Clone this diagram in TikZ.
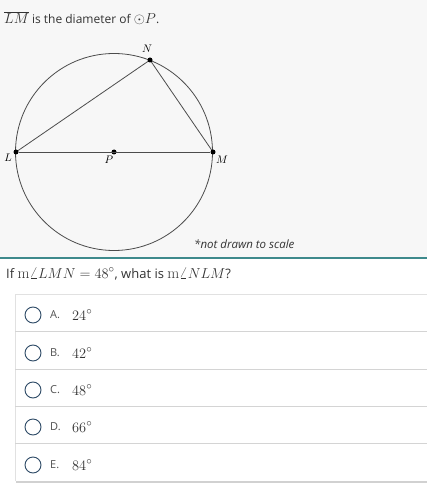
\documentclass[tikz,border=0pt]{standalone}
\usepackage{fontspec}
\setsansfont{Open Sans}
\usetikzlibrary{shadows}
\definecolor{topbg}{HTML}{F7F7F7}
\definecolor{teal}{HTML}{3E8A8C}
\definecolor{rulegray}{HTML}{D4D4D4}
\definecolor{radio}{HTML}{2E4A66}
\definecolor{txt}{HTML}{333333}
\newcommand{\mth}[2]{{\fontsize{#1}{#1}\selectfont$#2$}}
\tikzset{
  pt/.style={circle,fill=black,inner sep=0pt,minimum size=5pt},
  lbl/.style={font=\fontsize{11}{12}\selectfont,inner sep=0pt},
  geo/.style={draw=black!70,line width=0.8pt},
  radiobtn/.style={circle,draw=radio,line width=0.9pt,minimum size=16pt,inner sep=0pt},
  letter/.style={font=\sffamily\fontsize{11}{13}\selectfont,text=txt!85,anchor=west,inner sep=0pt},
  val/.style={font=\fontsize{15.5}{17}\selectfont,text=txt,anchor=west,inner sep=0pt},
  divider/.style={draw=rulegray,line width=0.8pt}
}
\begin{document}
\begin{tikzpicture}[x=1pt,y=-1pt]
\useasboundingbox (0,0) rectangle (427,494);
\fill[topbg] (0,0) rectangle (427,258);
\draw[teal,line width=1.3pt] (0,258) -- (427,258);
% header
\node[anchor=west,inner sep=0pt,font=\sffamily\fontsize{12}{14}\selectfont,text=txt] (hdr) at (4,18) {\mth{14}{\overline{LM}} is the diameter of \mth{14}{\odot P}.};
% circle
\coordinate (P) at (114,152);
\draw[geo] (P) circle (98.5);
\node[pt] (Ln) at (16,152) {};
\node[pt] (Mn) at (213,152) {};
\node[pt] (Nn) at (150,60) {};
\node[pt] (Pn) at (P) {};
\draw[geo] (Ln) -- (Mn);
\draw[geo] (Ln) -- (Nn) -- (Mn);
\node[lbl] (Nl) at (147,49) {$N$};
\node[lbl] (Ll) at (8,158) {$L$};
\node[lbl] (Pl) at (109,160) {$P$};
\node[lbl] (Ml) at (222,160) {$M$};
\node[anchor=west,inner sep=0pt,font=\sffamily\itshape\fontsize{11.5}{13}\selectfont,text=txt] (nds) at (194,244) {*not drawn to scale};
% question
\node[anchor=west,inner sep=0pt,font=\sffamily\fontsize{13}{15}\selectfont,text=txt] (q) at (6,274) {If \mth{15.5}{\mathrm{m}\angle LMN=48^\circ}, what is \mth{15.5}{\mathrm{m}\angle NLM}?};
% options box
\fill[black!18] (16,296) rectangle (429,483);
\fill[white] (15,294) rectangle (428,481);
\draw[rulegray!70,line width=0.6pt] (15,481) -- (15,294) -- (428,294);
\foreach \y in {331,369,406,443} \draw[divider] (15,\y) -- (428,\y);
\foreach \i/\y/\l/\v in {a/315/A./24,b/353/B./42,c/390/C./48,d/427/D./66,e/465/E./84}{
  \node[radiobtn] (r\i) at (33,\y) {};
  \node[letter] (l\i) at (50,\y) {\l};
  \node[val] (v\i) at (72,\y) {$\v^\circ$};
}
\end{tikzpicture}
\end{document}
